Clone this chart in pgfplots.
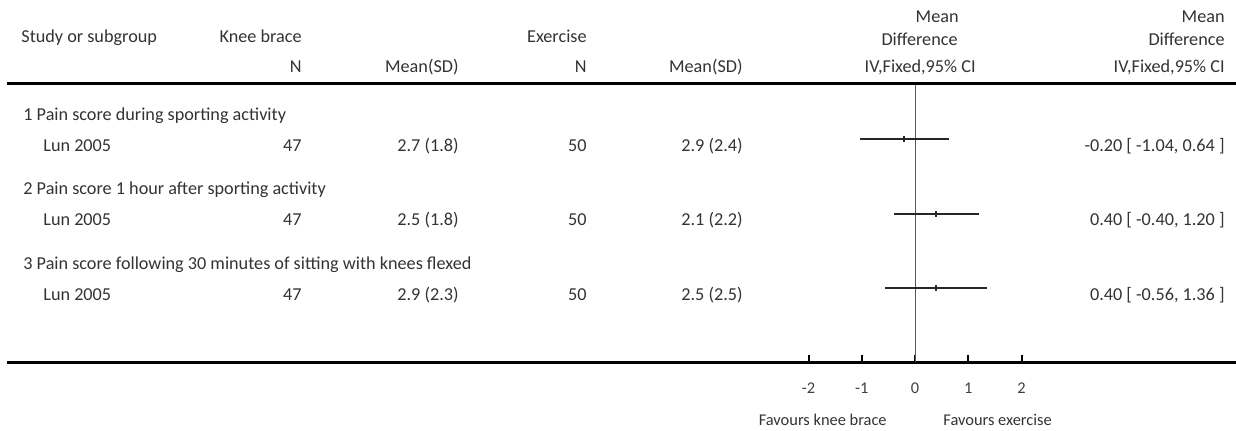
\documentclass[border=0pt]{standalone}
\usepackage{pgfplots}
\usepackage{pgfplotstable}
\pgfplotsset{compat=1.18}
\usepackage{fontspec}
\setmainfont{Carlito}

% mean difference, 95% CI, row height (px from bottom)
\pgfplotstableread{
est    lo     hi    y
-0.20 -1.04  0.64  291
 0.40 -0.40  1.20  216
 0.40 -0.56  1.36  142
}\mdrows

\begin{document}
\fontsize{9.1}{11}\selectfont
\begin{tikzpicture}
\path[use as bounding box] (0,0) rectangle (618pt,-215pt);
\begin{axis}[
  at={(3.5pt,-181pt)}, anchor=south west,
  scale only axis, width=614.5pt, height=138.5pt,
  xmin=-17.052, xmax=6.028, ymin=68, ymax=345,
  axis x line*=bottom, axis y line=none,
  x axis line style={line width=1.5pt},
  xtick={-2,-1,0,1,2}, xticklabels={-2,-1,0,1,2},
  tick align=inside, major tick length=3.6pt,
  every tick/.style={line width=1pt, black},
  xticklabel style={font=\fontsize{8.2}{10}\selectfont, anchor=base, yshift=-15.5pt, text=black!75},
  ytick=\empty, clip=false,
]
\addplot[black!65, line width=0.5pt] coordinates {(0,68) (0,345)};
% confidence intervals
\addplot[draw=none, mark=none,
  error bars/.cd, x dir=both, x explicit, error mark=none,
  error mark options={draw=none},
  error bar style={line width=0.75pt, black!85}]
  table[x=est, y=y,
    x error plus expr=\thisrow{hi}-\thisrow{est},
    x error minus expr=\thisrow{est}-\thisrow{lo}] {\mdrows};
% point estimates
\addplot[only marks, mark=|, mark size=1.5pt,
  mark options={line width=1pt, black!85}]
  table[x=est, y=y] {\mdrows};
\end{axis}
\begin{scope}[x=0.5pt, y=-0.5pt, every node/.style={inner sep=0pt, text=black!80}]
\draw[line width=1.5pt] (7,83) -- (1236,83);
% header
\node[anchor=base west] at (21,42) {Study or subgroup};
\node[anchor=base east] at (302,42) {Knee brace};
\node[anchor=base east] at (587,42) {Exercise};
\node[anchor=base east] at (959,22) {Mean};
\node[anchor=base east] at (958,45) {Difference};
\node[anchor=base east] at (976,72.5) {IV,Fixed,95\% CI};
\node[anchor=base east] at (1225,22) {Mean};
\node[anchor=base east] at (1225,45) {Difference};
\node[anchor=base east] at (1225,72.5) {IV,Fixed,95\% CI};
\node[anchor=base east] at (302,72.5) {N};
\node[anchor=base east] at (459,72.5) {Mean(SD)};
\node[anchor=base east] at (587,72.5) {N};
\node[anchor=base east] at (743,72.5) {Mean(SD)};
% rows
\node[anchor=base west] at (23,120) {1 Pain score during sporting activity};
\node[anchor=base west] at (43,151) {Lun 2005};
\node[anchor=base east] at (302,151) {47};
\node[anchor=base east] at (459,151) {2.7 (1.8)};
\node[anchor=base east] at (587,151) {50};
\node[anchor=base east] at (743,151) {2.9 (2.4)};
\node[anchor=base east] at (1225,151) {-0.20 [ -1.04, 0.64 ]};
\node[anchor=base west] at (23,194.5) {2 Pain score 1 hour after sporting activity};
\node[anchor=base west] at (43,225.5) {Lun 2005};
\node[anchor=base east] at (302,225.5) {47};
\node[anchor=base east] at (459,225.5) {2.5 (1.8)};
\node[anchor=base east] at (587,225.5) {50};
\node[anchor=base east] at (743,225.5) {2.1 (2.2)};
\node[anchor=base east] at (1225,225.5) {0.40 [ -0.40, 1.20 ]};
\node[anchor=base west] at (23,269) {3 Pain score following 30 minutes of sitting with knees flexed};
\node[anchor=base west] at (43,300) {Lun 2005};
\node[anchor=base east] at (302,300) {47};
\node[anchor=base east] at (459,300) {2.9 (2.3)};
\node[anchor=base east] at (587,300) {50};
\node[anchor=base east] at (743,300) {2.5 (2.5)};
\node[anchor=base east] at (1225,300) {0.40 [ -0.56, 1.36 ]};
% footer
\node[anchor=base east, font=\fontsize{8.2}{10}\selectfont] at (887,425) {Favours knee brace};
\node[anchor=base west, font=\fontsize{8.2}{10}\selectfont] at (943,425) {Favours exercise};
\end{scope}
\end{tikzpicture}
\end{document}
